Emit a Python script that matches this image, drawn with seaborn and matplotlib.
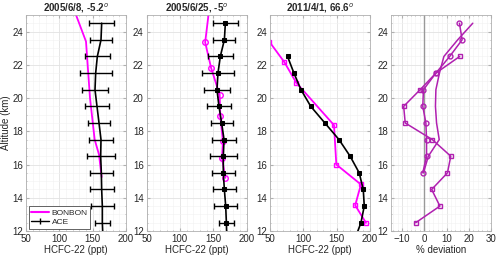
import numpy as np
import matplotlib
matplotlib.use("Agg")
import matplotlib.pyplot as plt
from matplotlib.ticker import MultipleLocator
from matplotlib.lines import Line2D
import seaborn as sns

sns.set_style("ticks")
plt.rcParams['font.family'] = ['Liberation Sans', 'DejaVu Sans']

# ---------------- data ----------------
alt_ace = [24.5, 23.5, 22.5, 21.5, 20.5, 19.5, 18.5, 17.5, 16.5, 15.5, 14.5, 13.5, 12.5, 11.5]

# panel 1 (2005/6/8)
p1_ace = [163.5, 162.5, 157, 154.5, 153.5, 156.5, 159.5, 162.5, 162, 163, 163.5, 164.5, 164.5, 165.5]
p1_err = [18.8, 16, 18.8, 24, 19, 17.8, 16.5, 18, 20.8, 17.3, 17.8, 16.8, 11.3, 0]
p1_bb_alt = [25.0, 23.4, 20.0, 17.5, 16.6, 15.25]
p1_bb = [125, 140, 146, 153, 159.5, 163.5]

# panel 2 (2005/6/25)
p2_ace = [168.3, 166.8, 160.7, 157.2, 155.7, 158.7, 162.7, 166.3, 165.2, 165.2, 166.8, 168.8, 169.8, 170.5]
p2_err = [18.9, 16.4, 19.1, 24.7, 20.1, 18.1, 16.7, 18, 20.7, 17.2, 17.4, 17, 11.4, 0]
p2_bb_alt = [25.8, 23.35, 21.8, 20.2, 18.9, 17.4, 16.4, 15.2]
p2_bb = [145.4, 138, 147, 159.7, 160.7, 164.7, 163.2, 168.3]

# panel 3 (2011/4/1)
p3_ace_alt = [22.5, 21.5, 20.5, 19.5, 18.5, 17.5, 16.5, 15.5, 14.5, 13.5, 12.5, 11.5]
p3_ace = [76.3, 85.9, 96.5, 111.1, 132.3, 153.5, 170.2, 183.8, 189.9, 191.4, 186.4, 177.2]
p3_bb_alt = [23.39, 22.15, 20.92, 18.37, 16.0, 14.8, 13.55, 12.49]
p3_bb = [49, 71.7, 89.4, 146, 149.5, 186.4, 177.8, 194]

# panel 4 (% deviation)
d1_alt = [24.5, 23.5, 22.5, 21.5, 20.5, 19.5, 18.5, 17.5, 16.5, 15.5]
d1 = [21.8, 15.0, 8.8, 6.8, 5.2, 5.0, 5.5, 6.7, 1.8, -0.4]
d2_alt = [24.5, 23.5, 22.5, 21.5, 20.5, 19.5, 18.5, 17.5, 16.5, 15.5]
d2 = [15.8, 17.0, 11.4, 5.2, -0.4, -0.7, 0.7, 1.0, 1.0, -0.7]
d3_alt = [22.5, 21.5, 20.5, 19.5, 18.5, 17.5, 16.5, 15.5, 14.5, 13.5, 12.5]
d3 = [15.9, 5.2, -1.9, -9.3, -8.6, 3.6, 11.9, 10.4, 3.3, 7.0, -3.9]

titles = ["2005/6/8, -5.2$^{o}$", "2005/6/25, -5$^{o}$", "2011/4/1, 66.6$^{o}$"]

MAG = "#FF00FF"
PUR = "#B020B0"

fig = plt.figure(figsize=(5.0, 2.57), dpi=100)
lefts = [0.052, 0.293, 0.540, 0.782]
axes = [fig.add_axes([l, 0.101, 0.200, 0.841]) for l in lefts]

def style(ax, xlim, xmaj, xmin):
    ax.set_ylim(12, 25)
    ax.set_xlim(*xlim)
    ax.xaxis.set_major_locator(MultipleLocator(xmaj))
    ax.xaxis.set_minor_locator(MultipleLocator(xmin))
    ax.yaxis.set_major_locator(MultipleLocator(2))
    ax.yaxis.set_minor_locator(MultipleLocator(0.5))
    ax.grid(True, which='major', color='#e2e2e2', lw=0.6)
    ax.grid(True, which='minor', color='#f1f1f1', lw=0.4)
    ax.set_axisbelow(True)
    ax.tick_params(which='both', direction='in', labelsize=7, colors='#b0b0b0',
                   labelcolor='#262626', length=2, pad=2, top=True, right=True)
    ax.tick_params(which='minor', length=1)
    for s in ax.spines.values():
        s.set_color('#b0b0b0')
        s.set_linewidth(0.6)

# panel 1
ax = axes[0]
sns.lineplot(x=p1_bb, y=p1_bb_alt, sort=False, estimator=None, color=MAG, lw=1.3, ax=ax)
ax.errorbar(p1_ace[:-1], alt_ace[:-1], xerr=p1_err[:-1], fmt='none', ecolor='black',
            elinewidth=1.0, capsize=2, capthick=1.0)
sns.lineplot(x=p1_ace, y=alt_ace, sort=False, estimator=None, color='black', lw=1.2, ax=ax)
style(ax, (50, 200), 50, 10)
ax.set_ylabel("Altitude (km)", fontsize=7, labelpad=1, color='#262626')
h_bb = Line2D([], [], color=MAG, lw=1.5)
h_ace = Line2D([], [], color='black', lw=1.0, marker='|', markersize=4)
leg = ax.legend([h_bb, h_ace], ["BONBON", "ACE"], loc='lower left', fontsize=6,
                frameon=True, fancybox=False, edgecolor='#262626', framealpha=1,
                handlelength=2.2, borderpad=0.3, labelspacing=0.2, handletextpad=0.3,
                borderaxespad=0.3)
leg.get_frame().set_linewidth(0.5)

# panel 2
ax = axes[1]
sns.lineplot(x=p2_bb, y=p2_bb_alt, sort=False, estimator=None, color=MAG, lw=1.3,
             marker='o', markersize=4, markerfacecolor='none', markeredgecolor=MAG,
             markeredgewidth=1.0, ax=ax)
ax.errorbar(p2_ace[:-1], alt_ace[:-1], xerr=p2_err[:-1], fmt='none', ecolor='black',
            elinewidth=1.0, capsize=2, capthick=1.0)
sns.lineplot(x=p2_ace, y=alt_ace, sort=False, estimator=None, color='black', lw=1.2,
             marker='s', markersize=3.5, markeredgecolor='black', ax=ax)
style(ax, (50, 200), 50, 10)

# panel 3
ax = axes[2]
sns.lineplot(x=p3_bb, y=p3_bb_alt, sort=False, estimator=None, color=MAG, lw=1.3,
             marker='s', markersize=3.5, markerfacecolor='none', markeredgecolor=MAG,
             markeredgewidth=1.0, ax=ax)
sns.lineplot(x=p3_ace, y=p3_ace_alt, sort=False, estimator=None, color='black', lw=1.2,
             marker='s', markersize=3.5, markeredgecolor='black', ax=ax)
style(ax, (50, 200), 50, 10)

# panel 4
ax = axes[3]
ax.axvline(0, color='#999999', lw=1.0)
sns.lineplot(x=d1, y=d1_alt, sort=False, estimator=None, color=PUR, lw=1.1, ax=ax)
sns.lineplot(x=d2, y=d2_alt, sort=False, estimator=None, color=PUR, lw=1.1,
             marker='o', markersize=3.5, markerfacecolor='none', markeredgecolor=PUR,
             markeredgewidth=1.0, ax=ax)
sns.lineplot(x=d3, y=d3_alt, sort=False, estimator=None, color=PUR, lw=1.1,
             marker='s', markersize=3.5, markerfacecolor='none', markeredgecolor=PUR,
             markeredgewidth=1.0, ax=ax)
style(ax, (-15, 30), 10, 2)
ax.set_xlabel("% deviation", fontsize=7, labelpad=1, color='#262626')

for i in range(3):
    axes[i].set_title(titles[i], fontsize=7, fontweight='bold', pad=2)
    axes[i].set_xlabel("HCFC-22 (ppt)", fontsize=7, labelpad=1, color='#262626')
for ax in axes[1:]:
    ax.set_ylabel("")

fig.savefig("out.png", dpi=100)
